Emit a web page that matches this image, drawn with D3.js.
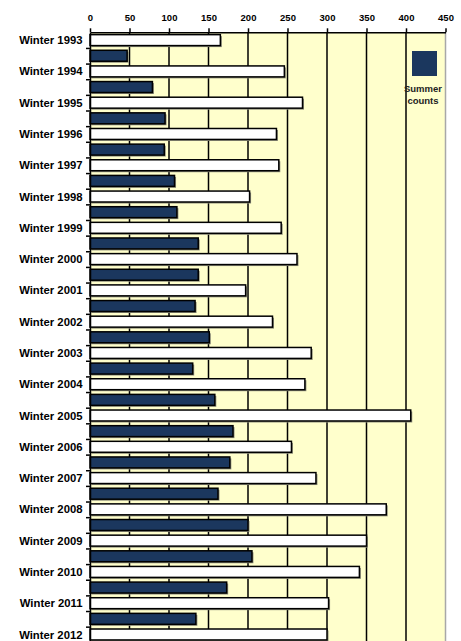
<!DOCTYPE html>
<html>
<head>
<meta charset="utf-8">
<script src="https://cdn.jsdelivr.net/npm/d3@7"></script>
<style>
  html, body { margin: 0; padding: 0; background: #fff; }
  svg { display: block; font-family: "Liberation Sans", Arial, sans-serif; }
</style>
</head>
<body>
<svg id="chart" width="461" height="641"></svg>
<script>
// data
const winterYears   = d3.range(1993, 2013);
const winterCounts  = [165, 246, 269, 236, 239, 202, 242, 262, 197, 231, 280, 272, 406, 255, 286, 375, 350, 341, 302, 300];
const summerCounts  = [47, 79, 95, 94, 107, 110, 137, 137, 133, 151, 130, 158, 181, 177, 162, 200, 205, 173, 134];
const xTicks        = [0, 50, 100, 150, 200, 250, 300, 350, 400, 450];
const legendLabel   = ['Summer', 'counts'];

// rows alternate winter / summer, top to bottom
const rows = [];
winterYears.forEach((yr, i) => {
  rows.push({ key: 'W' + yr, label: 'Winter ' + yr, value: winterCounts[i], season: 'winter' });
  if (i < summerCounts.length) rows.push({ key: 'S' + yr, label: '', value: summerCounts[i], season: 'summer' });
});

const svg = d3.select('#chart');
const plotLeft = 90, plotRight = 445.5, plotTop = 32.3, plotBottom = 642.3;
const NAVY = '#1B375E', BG = '#FFFFCC';

const x = d3.scaleLinear().domain([0, 450]).range([plotLeft, plotRight]);
const y = d3.scaleBand().domain(rows.map(d => d.key)).range([plotTop, plotBottom])
  .paddingInner(0.3).paddingOuter(0.15);
const yEdge = d3.scaleLinear().domain([0, rows.length]).range([plotTop, plotBottom]);

// plot background
svg.append('rect')
  .attr('x', x(0)).attr('y', plotTop)
  .attr('width', x(450) - x(0)).attr('height', plotBottom - plotTop)
  .attr('fill', BG);

// gridlines
svg.append('g').selectAll('line')
  .data(xTicks.filter(t => t > 0 && t < 450))
  .enter().append('line')
    .attr('x1', d => x(d)).attr('x2', d => x(d))
    .attr('y1', plotTop).attr('y2', plotBottom)
    .attr('stroke', '#000').attr('stroke-width', 1.5);

// right border
svg.append('line')
  .attr('x1', x(450)).attr('x2', x(450))
  .attr('y1', plotTop).attr('y2', plotBottom)
  .attr('stroke', '#a8a8a8').attr('stroke-width', 1.5);

// bar shadows
svg.append('g').selectAll('rect')
  .data(rows)
  .enter().append('rect')
    .attr('x', x(0) + 1.5)
    .attr('y', d => y(d.key) + 1.5)
    .attr('width', d => x(d.value) - x(0))
    .attr('height', y.bandwidth())
    .attr('fill', '#8c8c7a');

// bars
svg.append('g').selectAll('rect')
  .data(rows)
  .enter().append('rect')
    .attr('x', x(0))
    .attr('y', d => y(d.key))
    .attr('width', d => x(d.value) - x(0))
    .attr('height', y.bandwidth())
    .attr('fill', d => d.season === 'winter' ? '#fff' : NAVY)
    .attr('stroke', '#000').attr('stroke-width', 1.5);

// top axis
const xAxis = svg.append('g')
  .attr('transform', `translate(0,${plotTop})`)
  .call(d3.axisTop(x).tickValues(xTicks).tickSize(4).tickPadding(7).tickSizeOuter(0));
xAxis.select('.domain').attr('stroke-width', 1.5);
xAxis.selectAll('line').attr('stroke-width', 1.5);
xAxis.selectAll('text').attr('font-size', 9.5).attr('font-weight', 'bold').attr('fill', '#000')
  .attr('font-family', '"Liberation Sans", Arial, sans-serif');

// left axis: ticks at row boundaries
const yAxis = svg.append('g')
  .attr('transform', `translate(${plotLeft},0)`)
  .call(d3.axisLeft(yEdge).tickValues(d3.range(1, rows.length)).tickSize(4).tickFormat('').tickSizeOuter(0));
yAxis.select('.domain').attr('stroke-width', 1.5);
yAxis.selectAll('line').attr('stroke-width', 1.5);

// category labels
svg.append('g').selectAll('text')
  .data(rows.filter(d => d.season === 'winter'))
  .enter().append('text')
    .attr('x', plotLeft - 7.5)
    .attr('y', d => y(d.key) + y.bandwidth() / 2)
    .attr('dy', '0.36em')
    .attr('text-anchor', 'end')
    .attr('font-size', 11.3).attr('font-weight', 'bold')
    .text(d => d.label);

// legend
svg.append('rect')
  .attr('x', 412).attr('y', 51).attr('width', 25).attr('height', 25)
  .attr('fill', NAVY);
svg.append('g').selectAll('text')
  .data(legendLabel)
  .enter().append('text')
    .attr('x', 423)
    .attr('y', (d, i) => 91.5 + i * 12.8)
    .attr('text-anchor', 'middle')
    .attr('font-size', 9.5).attr('font-weight', 'bold')
    .attr('fill', '#222')
    .text(d => d);
</script>
</body>
</html>
